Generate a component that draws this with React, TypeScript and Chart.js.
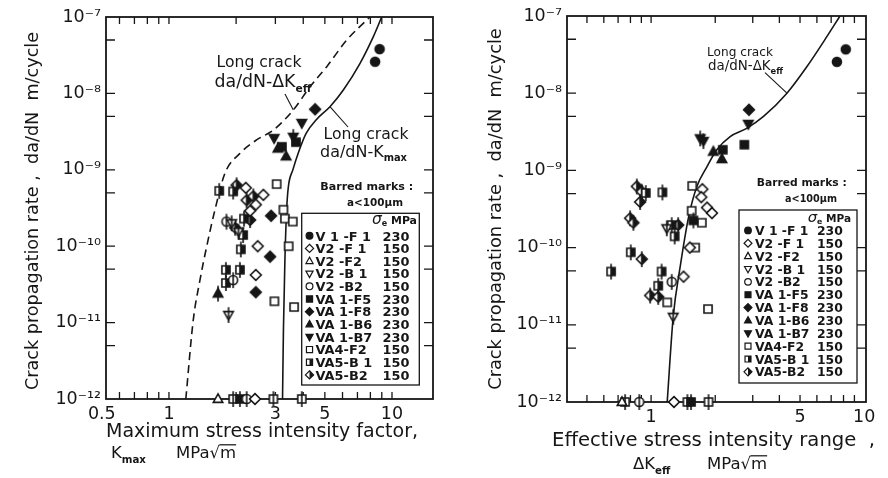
import { useEffect, useRef } from 'react';
import { Chart, registerables } from 'chart.js';

Chart.register(...registerables);

const FONT = "'DejaVu Sans', sans-serif";
const INK = '#161616';

// [K (MPa√m), da/dN (m/cycle), barred: crack length a < 100 µm]
type Pt = [number, number, number?];
type XY = [number, number];

// ---- da/dN versus Kmax ----
const KMAX_V1_F1: Pt[] = [[8.8, 3.8e-8], [8.4, 2.6e-8]];
const KMAX_V2_F1: Pt[] = [[2.21, 5.8e-10], [2.65, 4.7e-10], [2.45, 3.5e-10], [2.31, 2.9e-10], [2.5, 1.0e-10], [2.45, 4.2e-11], [2.43, 1e-12]];
const KMAX_V2_F2: Pt[] = [[1.66, 1e-12]];
const KMAX_V2_B1: Pt[] = [[1.91, 2.0e-10, 1], [2.05, 1.55e-10, 1], [1.85, 1.26e-11, 1]];
const KMAX_V2_B2: Pt[] = [[1.81, 2.1e-10, 1], [1.94, 3.6e-11, 1], [2.23, 1e-12, 1]];
const KMAX_VA1_F5: Pt[] = [[3.71, 2.3e-9], [3.21, 2.0e-9], [2.08, 1e-12, 1]];
const KMAX_VA1_F8: Pt[] = [[4.52, 6.2e-9], [2.87, 2.5e-10], [2.84, 7.3e-11], [2.45, 2.5e-11]];
const KMAX_VA1_B6: Pt[] = [[3.08, 1.9e-9], [3.35, 1.5e-9], [1.66, 2.4e-11, 1]];
const KMAX_VA1_B7: Pt[] = [[3.94, 4.1e-9], [2.96, 2.6e-9], [3.61, 2.7e-9, 1]];
const KMAX_VA4_F2: Pt[] = [[3.04, 6.5e-10], [3.26, 3.0e-10], [3.31, 2.3e-10], [3.59, 2.1e-10], [3.44, 1.0e-10], [2.97, 1.9e-11], [3.64, 1.6e-11], [1.94, 1e-12, 1], [2.94, 1e-12, 1], [3.94, 1e-12, 1]];
const KMAX_VA5_B1: Pt[] = [[1.68, 5.3e-10, 1], [1.94, 5.2e-10, 1], [2.17, 2.3e-10, 1], [2.15, 1.4e-10, 1], [2.1, 9.1e-11, 1], [1.8, 4.9e-11, 1], [2.08, 4.9e-11, 1], [1.8, 3.3e-11, 1]];
const KMAX_VA5_B2: Pt[] = [[2.01, 6.3e-10, 1], [2.23, 4.0e-10, 1], [2.39, 4.5e-10, 1], [2.31, 2.2e-10, 1], [1.98, 1.75e-10, 1]];

// long-crack curves plotted against Kmax
const KMAX_CURVE_DKEFF: XY[] = [[1.19, 1e-12], [1.285, 1.08e-11], [1.377, 3.6e-11], [1.476, 9.9e-11], [1.608, 3.0e-10], [1.782, 9.0e-10], [2.08, 1.64e-9], [2.47, 2.46e-9], [2.94, 3.32e-9], [3.61, 6.07e-9], [4.29, 1.22e-8], [5.1, 2.24e-8], [6.27, 5.0e-8], [7.96, 1e-7]];
const KMAX_CURVE_KMAX: XY[] = [[3.23, 1e-12], [3.26, 8e-12], [3.31, 6.6e-11], [3.37, 3.0e-10], [3.43, 6.0e-10], [3.59, 9.9e-10], [3.81, 1.7e-9], [4.12, 3.0e-9], [4.6, 4.6e-9], [5.27, 6.7e-9], [6.05, 1.11e-8], [7.19, 2.48e-8], [8.24, 5.5e-8], [8.99, 1e-7]];

// ---- da/dN versus ΔKeff ----
const DKEFF_V1_F1: Pt[] = [[8.2, 3.7e-8], [7.45, 2.55e-8]];
const DKEFF_V2_F1: Pt[] = [[1.74, 5.7e-10], [1.72, 4.5e-10], [1.83, 3.3e-10], [1.93, 2.8e-10], [1.52, 1.0e-10], [1.42, 4.2e-11], [1.28, 1e-12]];
const DKEFF_V2_F2: Pt[] = [[0.73, 1e-12]];
const DKEFF_V2_B1: Pt[] = [[1.185, 1.78e-10, 1], [1.27, 1.27e-11, 1]];
const DKEFF_V2_B2: Pt[] = [[1.25, 3.6e-11, 1], [0.88, 1e-12, 1]];
const DKEFF_VA1_F5: Pt[] = [[2.74, 2.15e-9], [2.17, 1.85e-9], [1.58, 2.25e-10, 1], [1.54, 1e-12, 1]];
const DKEFF_VA1_F8: Pt[] = [[2.88, 6.1e-9]];
const DKEFF_VA1_B6: Pt[] = [[1.96, 1.75e-9], [2.15, 1.4e-9]];
const DKEFF_VA1_B7: Pt[] = [[2.86, 4.0e-9], [1.7, 2.6e-9, 1], [1.76, 2.4e-9, 1]];
const DKEFF_VA4_F2: Pt[] = [[1.56, 6.3e-10], [1.55, 3.0e-10], [1.73, 2.1e-10], [1.61, 1.0e-10], [1.19, 1.95e-11], [1.85, 1.6e-11], [0.755, 1e-12, 1], [1.48, 1e-12, 1], [1.86, 1e-12, 1]];
const DKEFF_VA5_B1: Pt[] = [[0.944, 5.1e-10, 1], [1.13, 5.2e-10, 1], [0.803, 8.7e-11, 1], [0.649, 4.9e-11, 1], [1.12, 4.9e-11, 1], [1.08, 3.2e-11, 1], [1.29, 1.4e-10, 1], [1.25, 1.96e-10, 1]];
const DKEFF_VA5_B2: Pt[] = [[0.857, 6.2e-10, 1], [0.904, 5.3e-10, 1], [0.888, 3.9e-10, 1], [0.797, 2.4e-10, 1], [0.826, 2.1e-10, 1], [0.904, 7.1e-11, 1], [0.99, 2.4e-11, 1], [1.08, 2.3e-11, 1], [1.34, 1.96e-10, 1]];

const DKEFF_CURVE: XY[] = [[1.19, 1e-12], [1.27, 1.27e-11], [1.37, 5.7e-11], [1.5, 2.5e-10], [1.64, 6.2e-10], [1.83, 1.12e-9], [2.03, 1.84e-9], [2.35, 2.74e-9], [2.81, 3.5e-9], [3.37, 5.0e-9], [4.34, 1.0e-8], [5.38, 2.2e-8], [6.68, 5.4e-8], [7.7, 1e-7]];

// legend rows
const SERIES_NAMES = ['V 1 -F 1', 'V2 -F 1', 'V2 -F2', 'V2 -B 1', 'V2 -B2', 'VA 1-F5', 'VA 1-F8', 'VA 1-B6', 'VA 1-B7', 'VA4-F2', 'VA5-B 1', 'VA5-B2'];
const SERIES_STRESS = ['230', '150', '150', '150', '150', '230', '230', '230', '230', '150', '150', '150'];

// axis ticks
const KMAX_TICKS = [0.5, 0.6, 0.7, 0.8, 0.9, 1, 2, 3, 4, 5, 6, 7, 8, 9, 10];
const KMAX_TICK_LABELS = [0.5, 1, 3, 5, 10];
const DKEFF_TICKS = [0.5, 0.6, 0.7, 0.8, 0.9, 1, 2, 3, 4, 5, 6, 7, 8, 9, 10];
const DKEFF_TICK_LABELS = [1, 5, 10];
const RATE_TICKS = [1e-12, 5e-12, 1e-11, 5e-11, 1e-10, 5e-10, 1e-9, 5e-9, 1e-8, 5e-8, 1e-7];
const RATE_TICK_LABELS = ['10⁻¹²', '10⁻¹¹', '10⁻¹⁰', '10⁻⁹', '10⁻⁸', '10⁻⁷'];

type Shape = 'circle' | 'diamond' | 'triUp' | 'triDown' | 'square';
type Fill = 'solid' | 'open' | 'half';
const SERIES_MARKERS: [Shape, Fill][] = [
  ['circle', 'solid'], ['diamond', 'open'], ['triUp', 'open'], ['triDown', 'open'], ['circle', 'open'],
  ['square', 'solid'], ['diamond', 'solid'], ['triUp', 'solid'], ['triDown', 'solid'], ['square', 'open'],
  ['square', 'half'], ['diamond', 'half'],
];

// ---------- marker drawing ----------
function tracePath(ctx: CanvasRenderingContext2D, shape: Shape, cx: number, cy: number, r: number) {
  ctx.beginPath();
  if (shape === 'circle') {
    ctx.arc(cx, cy, r, 0, Math.PI * 2);
  } else if (shape === 'square') {
    const h = r * 0.9;
    ctx.rect(cx - h, cy - h, h * 2, h * 2);
  } else if (shape === 'diamond') {
    const d = r * 1.2;
    ctx.moveTo(cx, cy - d); ctx.lineTo(cx + d, cy); ctx.lineTo(cx, cy + d); ctx.lineTo(cx - d, cy); ctx.closePath();
  } else if (shape === 'triUp') {
    ctx.moveTo(cx, cy - r * 1.15); ctx.lineTo(cx + r * 1.05, cy + r * 0.75); ctx.lineTo(cx - r * 1.05, cy + r * 0.75); ctx.closePath();
  } else {
    ctx.moveTo(cx, cy + r * 1.15); ctx.lineTo(cx + r * 1.05, cy - r * 0.75); ctx.lineTo(cx - r * 1.05, cy - r * 0.75); ctx.closePath();
  }
}

function drawMarker(ctx: CanvasRenderingContext2D, shape: Shape, fill: Fill, cx: number, cy: number, r: number, barred: boolean, lw: number) {
  ctx.save();
  ctx.lineWidth = lw;
  ctx.strokeStyle = INK;
  tracePath(ctx, shape, cx, cy, r);
  ctx.fillStyle = fill === 'solid' ? INK : '#fff';
  ctx.fill();
  if (fill === 'half') {
    ctx.save();
    tracePath(ctx, shape, cx, cy, r);
    ctx.clip();
    ctx.fillStyle = INK;
    ctx.fillRect(cx, cy - r * 2, r * 2, r * 4);
    ctx.restore();
  }
  tracePath(ctx, shape, cx, cy, r);
  ctx.stroke();
  if (barred) {
    ctx.beginPath();
    ctx.moveTo(cx, cy - r * 1.75);
    ctx.lineTo(cx, cy + r * 1.75);
    ctx.stroke();
  }
  ctx.restore();
}

function markerImage(shape: Shape, fill: Fill, barred: boolean) {
  const c = document.createElement('canvas');
  c.width = 22;
  c.height = 22;
  drawMarker(c.getContext('2d')!, shape, fill, 11, 11, 4.5, barred, 1.6);
  return c;
}

// ---------- text helpers ----------
type Seg = { t: string; k?: number; dy?: number; bold?: boolean; italic?: boolean; over?: boolean };
const SUB = (t: string): Seg => ({ t, k: 0.62, dy: 0.28, bold: true });

function segFont(s: Seg, size: number) {
  return `${s.italic ? 'italic ' : ''}${s.bold ? 'bold ' : ''}${(size * (s.k ?? 1)).toFixed(2)}px ${FONT}`;
}
function richWidth(ctx: CanvasRenderingContext2D, segs: Seg[], size: number) {
  let w = 0;
  for (const s of segs) {
    ctx.font = segFont(s, size);
    w += ctx.measureText(s.t).width;
  }
  return w;
}
function drawRich(ctx: CanvasRenderingContext2D, segs: Seg[], x: number, y: number, size: number, align: 'left' | 'center' | 'right' = 'left') {
  const w = richWidth(ctx, segs, size);
  let cx = align === 'center' ? x - w / 2 : align === 'right' ? x - w : x;
  ctx.save();
  ctx.textAlign = 'left';
  ctx.textBaseline = 'alphabetic';
  ctx.fillStyle = INK;
  ctx.strokeStyle = INK;
  for (const s of segs) {
    ctx.font = segFont(s, size);
    const sw = ctx.measureText(s.t).width;
    ctx.fillText(s.t, cx, y + (s.dy ?? 0) * size);
    if (s.over) {
      ctx.lineWidth = Math.max(1, size * 0.075);
      ctx.beginPath();
      ctx.moveTo(cx - 0.5, y - size * 0.8);
      ctx.lineTo(cx + sw, y - size * 0.8);
      ctx.stroke();
    }
    cx += sw;
  }
  ctx.restore();
}
function drawFitted(ctx: CanvasRenderingContext2D, segs: Seg[], x: number, y: number, width: number, align: 'left' | 'center' | 'right' = 'left') {
  const size = (100 * width) / richWidth(ctx, segs, 100);
  drawRich(ctx, segs, x, y, size, align);
}
function leader(ctx: CanvasRenderingContext2D, chart: any, from: XY, to: XY) {
  const px = chart.scales.x.getPixelForValue(to[0]);
  const py = chart.scales.y.getPixelForValue(to[1]);
  ctx.save();
  ctx.strokeStyle = INK;
  ctx.lineWidth = 1.1;
  ctx.beginPath();
  ctx.moveTo(from[0], from[1]);
  ctx.lineTo(px, py);
  ctx.stroke();
  ctx.restore();
}

const Y_TITLE: Seg[] = [{ t: 'Crack propagation rate ,  da/dN  m/cycle' }];

function drawYTitle(ctx: CanvasRenderingContext2D, cx: number, cy: number, width: number) {
  ctx.save();
  ctx.translate(cx, cy);
  ctx.rotate(-Math.PI / 2);
  const size = (100 * width) / richWidth(ctx, Y_TITLE, 100);
  drawRich(ctx, Y_TITLE, 0, size * 0.36, size, 'center');
  ctx.restore();
}

type LegendLayout = {
  box: [number, number, number, number];
  markerX: number; nameX: number; valueX: number;
  headerRight: number; headerY: number; row0: number; step: number; size: number; r: number;
};
function drawLegend(ctx: CanvasRenderingContext2D, L: LegendLayout) {
  const [l, t, r, b] = L.box;
  ctx.save();
  ctx.strokeStyle = INK;
  ctx.lineWidth = 1.3;
  ctx.fillStyle = '#fff';
  ctx.fillRect(l, t, r - l, b - t);
  ctx.strokeRect(l, t, r - l, b - t);
  ctx.restore();
  drawRich(ctx, [{ t: 'σ', k: 1.2, italic: true }, { t: 'e', k: 0.62, dy: 0.2, bold: true }, { t: ' MPa', k: 0.85, bold: true }], L.headerRight, L.headerY, L.size, 'right');
  SERIES_NAMES.forEach((name, i) => {
    const y = L.row0 + i * L.step;
    const [shape, fill] = SERIES_MARKERS[i];
    drawMarker(ctx, shape, fill, L.markerX, y - L.size * 0.37, L.r, false, 1.2);
    drawRich(ctx, [{ t: name, bold: true }], L.nameX, y, L.size, 'left');
    drawRich(ctx, [{ t: SERIES_STRESS[i], bold: true }], L.valueX, y, L.size, 'left');
  });
}

// ---------- panels ----------
function decorateKmax(ctx: CanvasRenderingContext2D, chart: any) {
  drawYTitle(ctx, 32, 211, 358);
  drawFitted(ctx, [{ t: 'Maximum stress intensity factor,' }], 106, 437, 312, 'left');
  drawRich(ctx, [{ t: 'K' }, SUB('max')], 111, 458, 16.5, 'left');
  drawRich(ctx, [{ t: 'MPa√' }, { t: 'm', over: true }], 176, 458, 16.5, 'left');

  drawFitted(ctx, [{ t: 'Long crack' }], 259, 67, 85, 'center');
  drawFitted(ctx, [{ t: 'da/dN-ΔK' }, SUB('eff')], 263, 87, 97, 'center');
  leader(ctx, chart, [285, 94], [3.61, 6.07e-9]);

  drawFitted(ctx, [{ t: 'Long crack' }], 366, 139, 85, 'center');
  drawFitted(ctx, [{ t: 'da/dN-K' }, SUB('max')], 363.5, 157, 87, 'center');
  leader(ctx, chart, [348, 127], [5.27, 6.7e-9]);

  drawFitted(ctx, [{ t: 'Barred marks :', bold: true }], 366.7, 190, 93, 'center');
  drawFitted(ctx, [{ t: 'a<100µm', bold: true }], 375, 206, 56, 'center');

  drawLegend(ctx, {
    box: [301.7, 213.3, 419.3, 385], markerX: 309.5, nameX: 315.5, valueX: 382.5,
    headerRight: 417, headerY: 223.5, row0: 240.5, step: 12.65, size: 12.9, r: 3.4,
  });
}

function decorateDkeff(ctx: CanvasRenderingContext2D, chart: any) {
  drawYTitle(ctx, 51, 209, 362);
  drawFitted(ctx, [{ t: 'Effective stress intensity range  ,' }], 108, 446, 323, 'left');
  drawRich(ctx, [{ t: 'ΔK' }, SUB('eff')], 189, 469, 16.5, 'left');
  drawRich(ctx, [{ t: 'MPa√' }, { t: 'm', over: true }], 263, 469, 16.5, 'left');

  drawFitted(ctx, [{ t: 'Long crack' }], 296, 56, 66, 'center');
  drawFitted(ctx, [{ t: 'da/dN-ΔK' }, SUB('eff')], 301.5, 70, 75, 'center');
  leader(ctx, chart, [321, 72.7], [4.34, 1.0e-8]);

  drawFitted(ctx, [{ t: 'Barred marks :', bold: true }], 357.7, 186, 90, 'center');
  drawFitted(ctx, [{ t: 'a<100µm', bold: true }], 367, 201.5, 52, 'center');

  drawLegend(ctx, {
    box: [295, 210, 413, 383], markerX: 304, nameX: 311, valueX: 373,
    headerRight: 407, headerY: 221.5, row0: 235, step: 12.86, size: 12.4, r: 3.3,
  });
}

type Panel = {
  xMin: number; xMax: number; xTicks: number[]; xLabels: number[];
  series: Pt[][]; curves: { pts: XY[]; dashed: boolean }[];
  yAxisWidth: number; xAxisHeight: number; padRight: number; padTop: number;
  decorate: (ctx: CanvasRenderingContext2D, chart: any) => void;
};

const KMAX_PANEL: Panel = {
  xMin: 0.522, xMax: 15.27, xTicks: KMAX_TICKS, xLabels: KMAX_TICK_LABELS,
  series: [KMAX_V1_F1, KMAX_V2_F1, KMAX_V2_F2, KMAX_V2_B1, KMAX_V2_B2, KMAX_VA1_F5, KMAX_VA1_F8, KMAX_VA1_B6, KMAX_VA1_B7, KMAX_VA4_F2, KMAX_VA5_B1, KMAX_VA5_B2],
  curves: [{ pts: KMAX_CURVE_DKEFF, dashed: true }, { pts: KMAX_CURVE_KMAX, dashed: false }],
  yAxisWidth: 106, xAxisHeight: 79, padRight: 11, padTop: 17,
  decorate: decorateKmax,
};

const DKEFF_PANEL: Panel = {
  xMin: 0.403, xMax: 10.2, xTicks: DKEFF_TICKS, xLabels: DKEFF_TICK_LABELS,
  series: [DKEFF_V1_F1, DKEFF_V2_F1, DKEFF_V2_F2, DKEFF_V2_B1, DKEFF_V2_B2, DKEFF_VA1_F5, DKEFF_VA1_F8, DKEFF_VA1_B6, DKEFF_VA1_B7, DKEFF_VA4_F2, DKEFF_VA5_B1, DKEFF_VA5_B2],
  curves: [{ pts: DKEFF_CURVE, dashed: false }],
  yAxisWidth: 123, xAxisHeight: 76, padRight: 22, padTop: 16,
  decorate: decorateDkeff,
};

function rateLabel(v: number) {
  const e = Math.log10(v);
  const n = Math.round(e);
  return Math.abs(e - n) < 1e-6 ? RATE_TICK_LABELS[n + 12] : '';
}

function frameAndTicks(chart: any, xTicks: number[]) {
  const { ctx, chartArea } = chart;
  const { left, right, top, bottom } = chartArea;
  const xs = chart.scales.x;
  const ys = chart.scales.y;
  ctx.save();
  ctx.strokeStyle = INK;
  ctx.lineWidth = 1.3;
  ctx.beginPath();
  for (const v of xTicks) {
    const px = xs.getPixelForValue(v);
    if (px < left + 2 || px > right - 2) continue;
    ctx.moveTo(px, bottom); ctx.lineTo(px, bottom - 7);
    ctx.moveTo(px, top); ctx.lineTo(px, top + 7);
  }
  for (const v of RATE_TICKS) {
    const py = ys.getPixelForValue(v);
    if (py < top + 2 || py > bottom - 2) continue;
    ctx.moveTo(left, py); ctx.lineTo(left + 9, py);
    ctx.moveTo(right, py); ctx.lineTo(right - 9, py);
  }
  ctx.stroke();
  ctx.lineWidth = 1.8;
  ctx.strokeRect(left, top, right - left, bottom - top);
  ctx.restore();
}

function buildConfig(p: Panel, markers: HTMLCanvasElement[][]): any {
  const datasets: any[] = p.curves.map((c) => ({
    data: c.pts.map(([x, y]) => ({ x, y })),
    showLine: true,
    borderColor: INK,
    borderWidth: 1.6,
    borderDash: c.dashed ? [8, 5] : [],
    pointRadius: 0,
    cubicInterpolationMode: 'monotone',
    fill: false,
    order: 10,
  }));
  p.series.forEach((pts, i) => {
    datasets.push({
      data: pts.map(([x, y, b]) => ({ x, y, b: b ? 1 : 0 })),
      showLine: false,
      pointStyle: (c: any) => markers[i][c.raw && c.raw.b ? 1 : 0],
      pointRadius: 5,
      clip: false,
      order: 0,
    });
  });
  return {
    type: 'scatter',
    data: { datasets },
    options: {
      responsive: false,
      animation: false,
      events: [],
      layout: { padding: { left: 0, right: p.padRight, top: p.padTop, bottom: 0 } },
      plugins: { legend: { display: false }, tooltip: { enabled: false } },
      scales: {
        x: {
          type: 'logarithmic',
          min: p.xMin,
          max: p.xMax,
          bounds: 'data',
          grid: { display: false, drawTicks: false },
          border: { display: false },
          afterBuildTicks: (s: any) => { s.ticks = p.xTicks.map((value) => ({ value })); },
          afterFit: (s: any) => { s.height = p.xAxisHeight; },
          ticks: {
            autoSkip: false, maxRotation: 0, minRotation: 0, padding: 5, color: INK,
            font: { family: FONT, size: 17.5 },
            callback: (v: any) => (p.xLabels.includes(Number(v)) ? String(v) : ''),
          },
        },
        y: {
          type: 'logarithmic',
          min: 1e-12,
          max: 1e-7,
          bounds: 'data',
          grid: { display: false, drawTicks: false },
          border: { display: false },
          afterBuildTicks: (s: any) => { s.ticks = RATE_TICKS.map((value) => ({ value })); },
          afterFit: (s: any) => { s.width = p.yAxisWidth; },
          ticks: {
            autoSkip: false, padding: 5, color: INK,
            font: { family: FONT, size: 17.5 },
            callback: (v: any) => rateLabel(Number(v)),
          },
        },
      },
    },
    plugins: [{
      id: 'frameDecor',
      beforeDatasetsDraw: (chart: any) => frameAndTicks(chart, p.xTicks),
      afterDatasetsDraw: (chart: any) => p.decorate(chart.ctx, chart),
    }],
  };
}

export default function App() {
  const leftRef = useRef<HTMLCanvasElement>(null);
  const rightRef = useRef<HTMLCanvasElement>(null);

  useEffect(() => {
    const markers = SERIES_MARKERS.map(([s, f]) => [markerImage(s, f, false), markerImage(s, f, true)]);
    const charts = [
      new Chart(leftRef.current!, buildConfig(KMAX_PANEL, markers)),
      new Chart(rightRef.current!, buildConfig(DKEFF_PANEL, markers)),
    ];
    return () => charts.forEach((c) => c.destroy());
  }, []);

  return (
    <div style={{ position: 'absolute', left: 0, top: 0, width: 888, height: 478, background: '#fff' }}>
      <canvas ref={leftRef} width={444} height={478} style={{ position: 'absolute', left: 0, top: 0, width: 444, height: 478 }} />
      <canvas ref={rightRef} width={444} height={478} style={{ position: 'absolute', left: 444, top: 0, width: 444, height: 478 }} />
    </div>
  );
}
